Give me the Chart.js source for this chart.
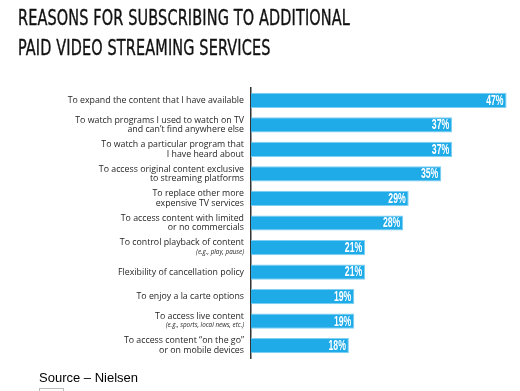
<!DOCTYPE html>
<html>
<head>
<meta charset="utf-8">
<script src="https://cdn.jsdelivr.net/npm/chart.js@4/dist/chart.umd.min.js"></script>
<style>
  html, body { margin:0; padding:0; background:#fff; }
  #wrap { position:relative; width:520px; height:391px; overflow:hidden; }
  #chart { position:absolute; left:0; top:0; }
  .title { position:absolute; left:18px; white-space:nowrap; transform-origin:0 0;
    font-family:"Liberation Sans Narrow","DejaVu Sans Condensed","Roboto",sans-serif;
    font-size:22px; line-height:22px; color:#111; letter-spacing:0.2px;
    -webkit-text-stroke:0.35px #111; }
  #src { position:absolute; left:39px; top:370px; font:13px "Liberation Sans",Arial,sans-serif; color:#000; }
  #box { position:absolute; left:39px; top:388px; width:23px; height:8px; border:1px solid #bbb; }
</style>
</head>
<body>
<div id="wrap">
  <canvas id="chart" width="520" height="391"></canvas>
  <div class="title" id="t1" style="top:7px">REASONS FOR SUBSCRIBING TO ADDITIONAL</div>
  <div class="title" id="t2" style="top:37px">PAID VIDEO STREAMING SERVICES</div>
  <div id="src">Source – Nielsen</div>
  <div id="box"></div>
</div>
<script>
// reasons, top to bottom
const reasons = [
  ['To expand the content that I have available'],
  ['To watch programs I used to watch on TV', 'and can’t find anywhere else'],
  ['To watch a particular program that', 'I have heard about'],
  ['To access original content exclusive', 'to streaming platforms'],
  ['To replace other more', 'expensive TV services'],
  ['To access content with limited', 'or no commercials'],
  ['To control playback of content'],
  ['Flexibility of cancellation policy'],
  ['To enjoy a la carte options'],
  ['To access live content'],
  ['To access content “on the go”', 'or on mobile devices']
];
const notes = ['', '', '', '', '', '', '(e.g., play, pause)', '', '', '(e.g., sports, local news, etc.)', ''];
const shares = [47, 37, 37, 35, 29, 28, 21, 21, 19, 19, 18];

// stretch title lines to the reference width
const t1 = document.getElementById('t1'), t2 = document.getElementById('t2');
const k = 332 / t1.getBoundingClientRect().width;
t1.style.transform = t2.style.transform = `scaleX(${k})`;

const AXIS_X = 251;

// draws the wrapped category labels and the % values
const labelPlugin = {
  id: 'labels',
  afterDraw(chart) {
    const ctx = chart.ctx, y = chart.scales.y, x = chart.scales.x;
    ctx.save();
    ctx.textAlign = 'right';
    ctx.textBaseline = 'middle';
    reasons.forEach((lines, i) => {
      const cy = y.getPixelForValue(i);
      const note = notes[i];
      const lh = 9.5;
      let start;
      if (note) start = cy - 5;
      else start = cy - (lines.length - 1) * lh / 2;
      ctx.fillStyle = '#262626';
      ctx.font = '8.8px "Open Sans", sans-serif';
      lines.forEach((s, j) => ctx.fillText(s, 244, start + j * lh));
      if (note) {
        ctx.font = 'italic 6.3px "Open Sans", sans-serif';
        ctx.fillText(note, 244, cy + 4.5);
      }
      // value inside bar end
      const xe = x.getPixelForValue(shares[i]);
      ctx.save();
      ctx.translate(xe - 3, cy + 0.5);
      ctx.scale(0.62, 1);
      ctx.fillStyle = '#fff';
      ctx.font = 'bold 14px "Liberation Sans", Arial, sans-serif';
      ctx.fillText(shares[i] + '%', 0, 0);
      ctx.restore();
    });
    ctx.restore();
  }
};

new Chart(document.getElementById('chart'), {
  type: 'bar',
  data: {
    labels: reasons.map(r => r.join(' ')),
    datasets: [{
      data: shares,
      backgroundColor: '#1faae8',
      borderColor: '#7fd0f3',
      borderWidth: 1,
      borderSkipped: 'left',
      barPercentage: 0.62,
      categoryPercentage: 1
    }]
  },
  options: {
    indexAxis: 'y',
    responsive: false,
    animation: false,
    layout: { padding: { top: 88, bottom: 33, right: 8, left: 0 } },
    plugins: { legend: { display: false }, tooltip: { enabled: false } },
    scales: {
      x: { display: false, min: 0, max: 48 },
      y: {
        ticks: { display: false },
        grid: { display: false },
        border: { display: true, color: '#333', width: 1.5 },
        afterFit(s) { s.width = AXIS_X; }
      }
    }
  },
  plugins: [labelPlugin]
});
</script>
</body>
</html>
